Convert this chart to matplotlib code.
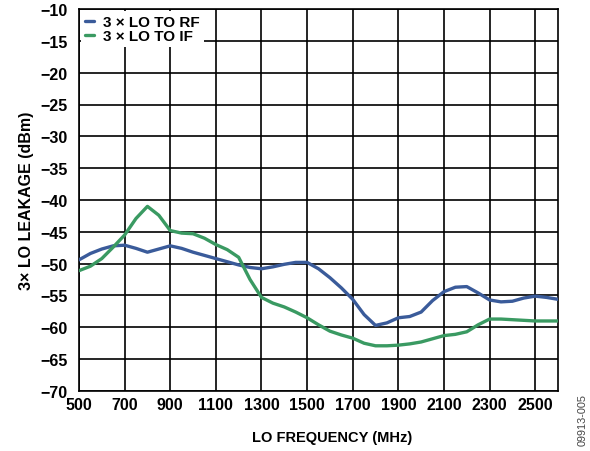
import matplotlib
matplotlib.use("Agg")
import matplotlib.pyplot as plt
import numpy as np

plt.rcParams["font.family"] = ["Liberation Sans", "DejaVu Sans"]
plt.rcParams["font.weight"] = "bold"

# LO frequency (MHz), 50 MHz steps
freq = np.arange(500, 2601, 50)

# 3x LO to RF leakage (dBm)
lo_to_rf = [
    -49.4, -48.4, -47.7, -47.2, -47.1, -47.6, -48.2, -47.7, -47.2, -47.6,
    -48.2, -48.7, -49.2, -49.7, -50.2, -50.6, -50.8, -50.5, -50.1, -49.8,
    -49.8, -50.8, -52.2, -53.8, -55.6, -58.0, -59.7, -59.3, -58.5, -58.3,
    -57.6, -55.8, -54.4, -53.7, -53.6, -54.6, -55.7, -56.0, -55.9, -55.4,
    -55.1, -55.3, -55.6,
]

# 3x LO to IF leakage (dBm)
lo_to_if = [
    -51.1, -50.4, -49.2, -47.4, -45.5, -42.9, -41.0, -42.4, -44.8, -45.2,
    -45.3, -46.0, -47.0, -47.8, -49.0, -52.5, -55.3, -56.2, -56.8, -57.6,
    -58.5, -59.6, -60.6, -61.2, -61.7, -62.5, -62.9, -62.9, -62.8, -62.6,
    -62.3, -61.8, -61.3, -61.1, -60.7, -59.6, -58.7, -58.7, -58.8, -58.9,
    -59.0, -59.0, -59.0,
]

x_ticks = list(range(500, 2501, 200))
y_ticks = list(range(-70, -9, 5))

fig = plt.figure(figsize=(5.90, 4.52), dpi=100)
ax = fig.add_axes([79 / 590, 1 - 392 / 452, (558 - 79) / 590, (392 - 10) / 452])

ax.plot(freq, lo_to_rf, color="#3a5b9a", linewidth=2.4, label="3 × LO TO RF",
        solid_capstyle="round", solid_joinstyle="round", zorder=3)
ax.plot(freq, lo_to_if, color="#3a9a62", linewidth=2.4, label="3 × LO TO IF",
        solid_capstyle="round", solid_joinstyle="round", zorder=3)

ax.set_xlim(500, 2600)
ax.set_ylim(-70, -10)
ax.set_xticks(x_ticks)
ax.set_yticks(y_ticks)
ax.tick_params(axis="both", length=0, labelsize=11.5)
ax.tick_params(axis="x", pad=4)
ax.tick_params(axis="y", pad=8)
for lbl in ax.get_xticklabels() + ax.get_yticklabels():
    lbl.set_fontweight("bold")
ax.grid(True, color="black", linewidth=1.2)
for sp in ax.spines.values():
    sp.set_color("black")
    sp.set_linewidth(1.2)

ax.set_xlabel("LO FREQUENCY (MHz)", fontsize=10.5, fontweight="bold")
ax.xaxis.set_label_coords(0.528, -0.12)
ax.xaxis.label.set_va("center")
ax.set_ylabel("3× LO LEAKAGE (dBm)", fontsize=11.5, fontweight="bold", labelpad=5)

leg = ax.legend(loc="upper left", frameon=True, fancybox=False, edgecolor="none",
                facecolor="white", framealpha=1, handlelength=0.6, handletextpad=0.6,
                borderaxespad=0.15, borderpad=0.25, labelspacing=0.0,
                prop={"size": 11, "weight": "bold"})
leg.set_zorder(5)

fig.text(583 / 590, 1 - 420 / 452, "09913-005", rotation=90, fontsize=7.8,
         color="#444444", ha="center", va="center", fontweight="normal")

fig.savefig("out.png", dpi=100)
